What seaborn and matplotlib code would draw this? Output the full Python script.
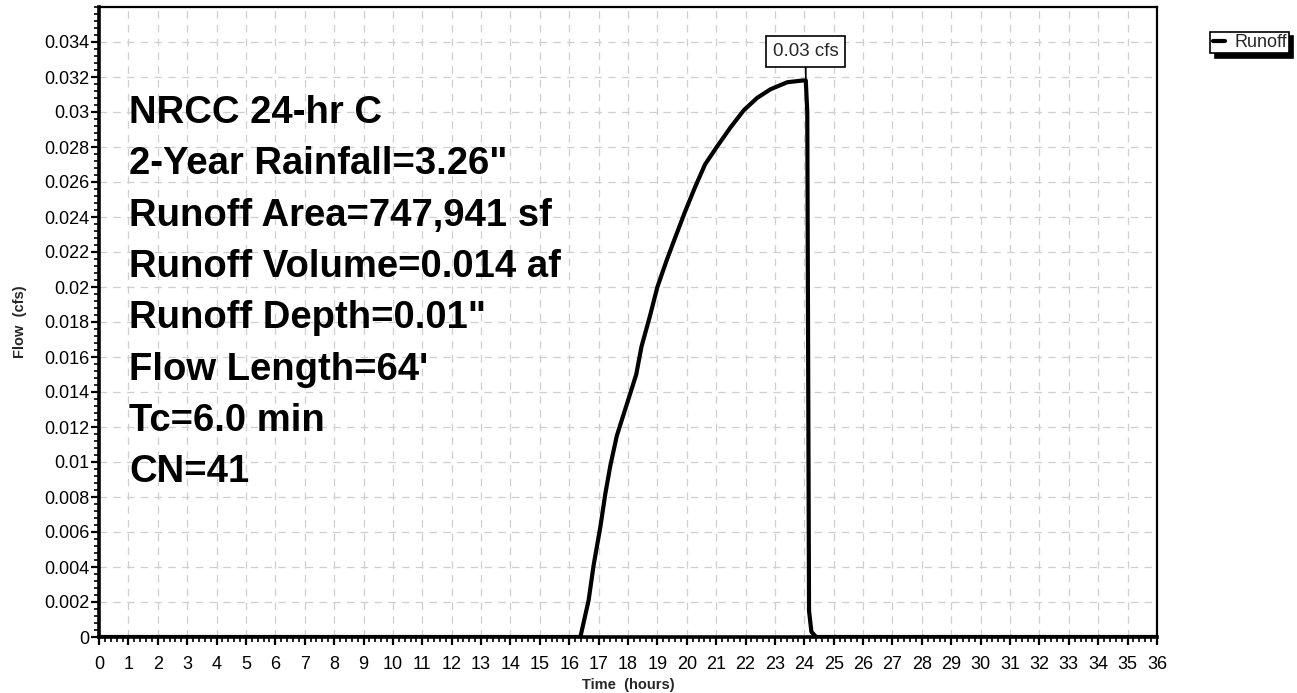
import matplotlib
matplotlib.use("Agg")
import matplotlib.pyplot as plt
from matplotlib.ticker import MultipleLocator
import pandas as pd
import seaborn as sns

# Runoff hydrograph, values
time_hr = [0.0, 16.38, 16.66, 16.83, 17.06, 17.23, 17.40, 17.62, 17.96, 18.28,
           18.46, 18.74, 19.00, 19.31, 19.60, 19.94, 20.28, 20.62, 21.02, 21.48,
           21.94, 22.39, 22.85, 23.42, 23.94, 24.05, 24.10, 24.16, 24.24, 24.40, 36.0]
flow_cfs = [0.0, 0.0, 0.0021, 0.0041, 0.0063, 0.0082, 0.0098, 0.0115, 0.0133, 0.0150,
            0.0166, 0.0183, 0.0200, 0.0215, 0.0228, 0.0243, 0.0257, 0.0270, 0.0280, 0.0291,
            0.0301, 0.0308, 0.0313, 0.0317, 0.0318, 0.0318, 0.0300, 0.0015, 0.0003, 0.0, 0.0]

series_name = "Runoff"
peak_time = 24.05
peak_flow = 0.0318
peak_label = "0.03 cfs"

x_ticks = list(range(0, 37))
x_labels = [str(v) for v in x_ticks]
y_ticks = [0.0, 0.002, 0.004, 0.006, 0.008, 0.01, 0.012, 0.014, 0.016, 0.018,
           0.02, 0.022, 0.024, 0.026, 0.028, 0.03, 0.032, 0.034]
y_labels = ["0", "0.002", "0.004", "0.006", "0.008", "0.01", "0.012", "0.014", "0.016",
            "0.018", "0.02", "0.022", "0.024", "0.026", "0.028", "0.03", "0.032", "0.034"]

info_lines = ["NRCC 24-hr C", "2-Year Rainfall=3.26\"", "Runoff Area=747,941 sf",
              "Runoff Volume=0.014 af", "Runoff Depth=0.01\"", "Flow Length=64'",
              "Tc=6.0 min", "CN=41"]

df = pd.DataFrame({"Time": time_hr, "Flow": flow_cfs})

sns.set_style("ticks")
plt.rcParams["font.family"] = ["Liberation Sans", "DejaVu Sans"]

W, H = 1297, 693
fig = plt.figure(figsize=(W / 100, H / 100), dpi=100)
ax = fig.add_axes([99 / W, (H - 637) / H, 1058 / W, 630 / H])

sns.lineplot(data=df, x="Time", y="Flow", color="black", lw=3.0, ax=ax,
             label=series_name, sort=False, estimator=None, zorder=5)

ax.set_xlim(0, 36)
ax.set_ylim(0, 0.036)
ax.set_xticks(x_ticks)
ax.set_xticklabels(x_labels)
ax.set_yticks(y_ticks)
ax.set_yticklabels(y_labels)
ax.xaxis.set_minor_locator(MultipleLocator(0.2))
ax.yaxis.set_minor_locator(MultipleLocator(0.0004))

ax.grid(True, which="major", color="#cfcfcf", lw=0.9, ls=(0, (6, 5)))
ax.tick_params(axis="both", which="both", bottom=True, left=True, top=False, right=False)
ax.tick_params(axis="both", which="major", direction="out", length=6, width=1.6,
               labelsize=13, colors="black")
ax.tick_params(axis="both", which="minor", direction="out", length=3.5, width=1.2,
               colors="black")
ax.tick_params(axis="y", which="major", pad=1)
ax.tick_params(axis="x", which="major", pad=8)

ax.spines["left"].set_linewidth(2.6)
ax.spines["bottom"].set_linewidth(2.6)
ax.spines["top"].set_linewidth(1.6)
ax.spines["right"].set_linewidth(1.6)
for s in ax.spines.values():
    s.set_color("black")

ax.set_xlabel("Time  (hours)", fontsize=10.5, fontweight="bold")
ax.set_ylabel("Flow  (cfs)", fontsize=10.5, fontweight="bold")
ax.xaxis.set_label_coords(0.5, -0.065)
ax.yaxis.set_label_coords(-0.068, 0.5)

# peak callout
ax.annotate(peak_label, xy=(peak_time, peak_flow), xytext=(peak_time, 0.03346),
            ha="center", va="center", fontsize=13.5,
            bbox=dict(boxstyle="square,pad=0.35", fc="white", ec="black", lw=1.2),
            arrowprops=dict(arrowstyle="-", color="black", lw=1.2, shrinkA=0, shrinkB=0),
            zorder=6)

# storm / catchment summary
for i, line in enumerate(info_lines):
    fig.text(129 / W, 1 - (123 + i * 51.3) / H, line, fontsize=27.5,
             fontweight="bold", va="baseline", ha="left", color="black")

leg = ax.legend(loc="upper right", bbox_to_anchor=(1289 / W, 1 - 32 / H),
                bbox_transform=fig.transFigure, frameon=True, fancybox=False,
                edgecolor="black", framealpha=1, fontsize=13, handlelength=0.7,
                handletextpad=0.5, borderpad=0.12, borderaxespad=0,
                shadow={"ox": 3, "oy": -3, "color": "black", "alpha": 1})
leg.get_frame().set_linewidth(1.2)

fig.savefig("out.png", dpi=100)
